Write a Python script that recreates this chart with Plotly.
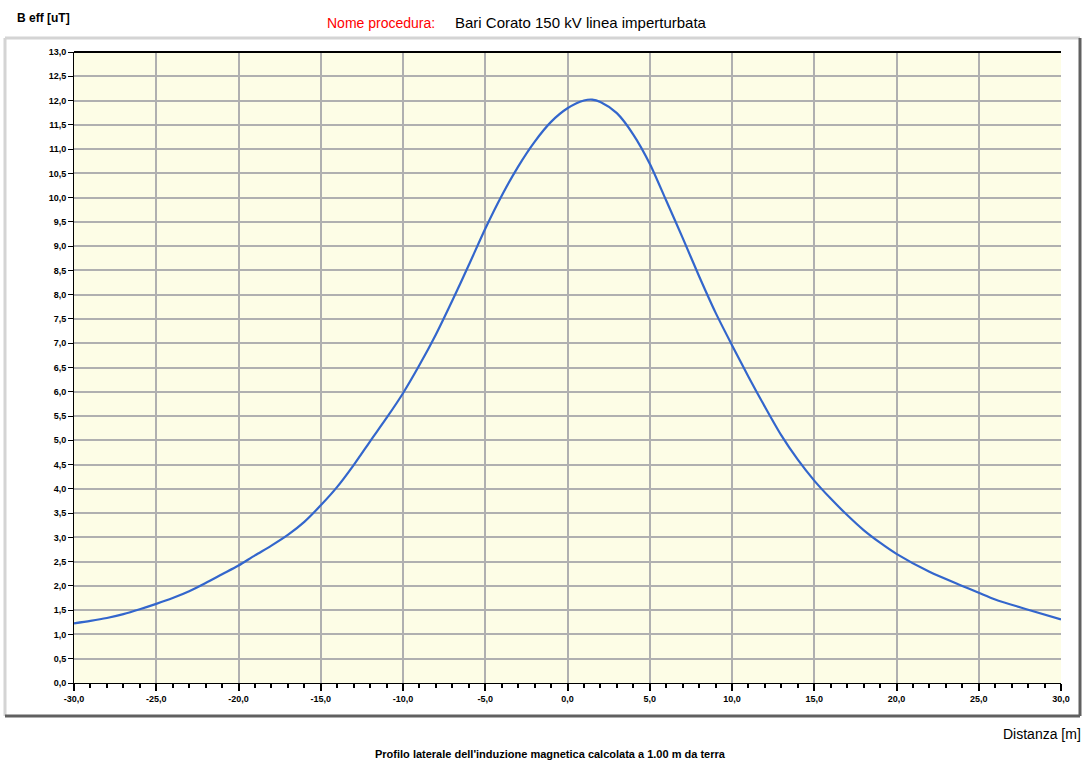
import plotly.graph_objects as go

# Data
distanza = [-30, -29, -28, -27, -26, -25, -24, -23, -22, -21, -20, -19, -18, -17, -16,
            -15, -14, -13, -12, -11, -10, -9, -8, -7, -6, -5, -4, -3, -2, -1,
            0, 1, 1.5, 2, 3, 4, 5, 6, 7, 8, 9, 10, 11, 12, 13, 14, 15, 16, 17, 18,
            19, 20, 22, 24, 25, 26, 28, 30]
b_eff = [1.23, 1.28, 1.34, 1.42, 1.52, 1.63, 1.75, 1.89, 2.06, 2.24, 2.42, 2.63, 2.83, 3.05, 3.32,
         3.66, 4.04, 4.49, 4.98, 5.46, 5.97, 6.55, 7.18, 7.88, 8.61, 9.36, 10.04, 10.64, 11.15, 11.56,
         11.84, 12.00, 12.02, 11.97, 11.74, 11.30, 10.70, 9.94, 9.17, 8.38, 7.63, 6.96, 6.31, 5.69, 5.10,
         4.60, 4.17, 3.80, 3.46, 3.15, 2.89, 2.66, 2.29, 2.00, 1.86, 1.72, 1.51, 1.31]

x_tick_vals = [-30, -25, -20, -15, -10, -5, 0, 5, 10, 15, 20, 25, 30]
x_tick_text = ["-30,0", "-25,0", "-20,0", "-15,0", "-10,0", "-5,0", "0,0", "5,0",
               "10,0", "15,0", "20,0", "25,0", "30,0"]
y_tick_vals = [i * 0.5 for i in range(27)]
y_tick_text = [f"{v:.1f}".replace(".", ",") for v in y_tick_vals]

title_label = "Nome procedura:"
title_value = "Bari Corato 150 kV linea imperturbata"
y_title = "B eff [uT]"
x_title = "Distanza [m]"
caption = "Profilo laterale dell'induzione magnetica calcolata a 1.00 m da terra"

W, H = 1085, 764
L, R, T, B = 74, 24, 52, 81
pw, ph = W - L - R, H - T - B


def px(xp):
    return (xp - L) / pw


def py(yp):
    return (H - B - yp) / ph


fig = go.Figure()
fig.add_trace(go.Scatter(
    x=distanza, y=b_eff, mode="lines",
    line=dict(color="#3366cc", width=2.2, shape="spline", smoothing=0.8),
    hoverinfo="x+y", showlegend=False,
))

tick_font = dict(family="Liberation Sans, Arial, sans-serif", size=9, color="black")

fig.update_layout(
    width=W, height=H,
    margin=dict(l=L, r=R, t=T, b=B, pad=0),
    paper_bgcolor="white",
    plot_bgcolor="#fdfde6",
    showlegend=False,
    xaxis=dict(
        range=[-30, 30], tickmode="array", tickvals=x_tick_vals,
        ticktext=[f"<b>{t}</b>" for t in x_tick_text],
        ticks="outside", ticklen=7, tickwidth=2, tickcolor="black",
        showline=True, linecolor="black", linewidth=1,
        showgrid=True, gridcolor="#b0b0b0", gridwidth=1.5,
        zeroline=False, tickfont=tick_font,
        minor=dict(dtick=1, tick0=0, ticks="outside", ticklen=4, tickwidth=2,
                   tickcolor="black", showgrid=False),
    ),
    yaxis=dict(
        range=[0, 13], tickmode="array", tickvals=y_tick_vals,
        ticktext=[f"<b>{t}</b>" for t in y_tick_text],
        ticks="outside", ticklen=5, tickwidth=1, tickcolor="black",
        showline=True, linecolor="black", linewidth=1,
        showgrid=True, gridcolor="#b0b0b0", gridwidth=1.5,
        zeroline=False, tickfont=tick_font,
    ),
)

# Panel frame (3D-like border)
left_p, right_p = px(5), px(1080)
top_p, bot_p = py(38), py(716)
shapes = [
    dict(type="line", xref="paper", yref="paper", x0=left_p, x1=right_p, y0=top_p, y1=top_p,
         line=dict(color="#d4d4d4", width=3)),
    dict(type="line", xref="paper", yref="paper", x0=left_p, x1=left_p, y0=bot_p, y1=top_p,
         line=dict(color="#d4d4d4", width=3)),
    dict(type="line", xref="paper", yref="paper", x0=right_p, x1=right_p, y0=bot_p, y1=top_p,
         line=dict(color="#606060", width=3)),
    dict(type="line", xref="paper", yref="paper", x0=left_p, x1=right_p, y0=bot_p, y1=bot_p,
         line=dict(color="#606060", width=3)),
    dict(type="line", xref="paper", yref="paper", x0=0, x1=1, y0=1, y1=1,
         line=dict(color="black", width=2)),
]
fig.update_layout(shapes=shapes)

ann_font = "Liberation Sans, Arial, sans-serif"
fig.add_annotation(text=title_label, xref="paper", yref="paper", x=px(437), y=py(23),
                   xanchor="right", yanchor="middle", showarrow=False,
                   font=dict(family=ann_font, size=14, color="red"))
fig.add_annotation(text=title_value, xref="paper", yref="paper", x=px(453), y=py(23),
                   xanchor="left", yanchor="middle", showarrow=False,
                   font=dict(family=ann_font, size=15, color="black"))
fig.add_annotation(text=f"<b>{y_title}</b>", xref="paper", yref="paper", x=px(15), y=py(18),
                   xanchor="left", yanchor="middle", showarrow=False,
                   font=dict(family=ann_font, size=12, color="black"))
fig.add_annotation(text=x_title, xref="paper", yref="paper", x=px(1083), y=py(734),
                   xanchor="right", yanchor="middle", showarrow=False,
                   font=dict(family=ann_font, size=14, color="black"))
fig.add_annotation(text=f"<b>{caption}</b>", xref="paper", yref="paper", x=px(550), y=py(762),
                   xanchor="center", yanchor="bottom", showarrow=False,
                   font=dict(family=ann_font, size=11, color="black"))

fig.write_html("out.html")
